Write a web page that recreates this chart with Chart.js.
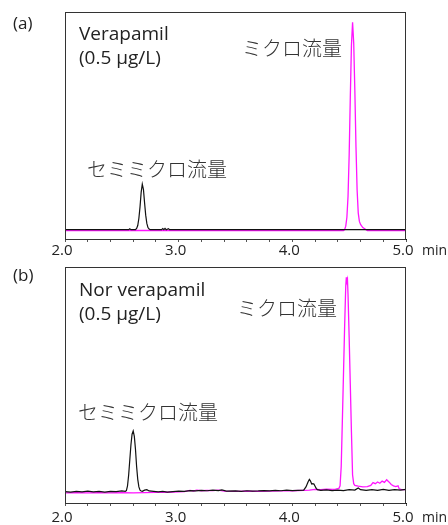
<!DOCTYPE html>
<html>
<head>
<meta charset="utf-8">
<script src="https://cdn.jsdelivr.net/npm/chart.js@4.4.1/dist/chart.umd.min.js"></script>
<style>
  body { margin: 0; background: #fff; }
  #page { position: relative; width: 448px; height: 525px; overflow: hidden; }
  .panel { position: absolute; left: 0; width: 448px; height: 262px; }
  .txt { position: absolute; white-space: nowrap; line-height: 1; color: #222;
         font-family: "Open Sans", "Noto Sans", sans-serif; }
  .jp { font-family: "Noto Sans CJK JP", "Noto Sans", sans-serif; color: #333; font-weight: 300; }
</style>
</head>
<body>
<div id="page">
  <div class="panel" style="top:0"><canvas id="chartA"></canvas></div>
  <div class="panel" style="top:263px"><canvas id="chartB"></canvas></div>

  <div class="txt" style="left:13px;top:14px;font-size:17px">(a)</div>
  <div class="txt" style="left:79px;top:21px;font-size:19px;line-height:24px">Verapamil<br>(0.5 µg/L)</div>
  <div class="txt jp" style="left:242px;top:38px;font-size:20px">ミクロ流量</div>
  <div class="txt jp" style="left:87px;top:159px;font-size:20px">セミミクロ流量</div>
  <div class="txt" style="left:422px;top:243px;font-size:14px">min</div>

  <div class="txt" style="left:13px;top:266px;font-size:17px">(b)</div>
  <div class="txt" style="left:79px;top:277px;font-size:19px;line-height:24px">Nor verapamil<br>(0.5 µg/L)</div>
  <div class="txt jp" style="left:237px;top:298px;font-size:20px">ミクロ流量</div>
  <div class="txt jp" style="left:78px;top:402px;font-size:20px">セミミクロ流量</div>
  <div class="txt" style="left:422px;top:510px;font-size:14px">min</div>
</div>

<script>
// retention time axis (min)
const X_MIN = 2.0;
const X_MAX = 5.0;
const xTickLabels = ["2.0", "3.0", "4.0", "5.0"];

// (a) Verapamil, 0.5 ug/L  -- [time, response], peak of micro flow = 100
const semiMicroA = [
  [2.0, 0], [2.3, 0], [2.56, 0], [2.57, 0.4], [2.58, 0], [2.62, 0], [2.63, 0.6], [2.64, 2],
  [2.65, 5.5], [2.66, 11], [2.67, 18], [2.68, 22], [2.69, 19.5], [2.70, 13], [2.71, 7],
  [2.72, 3], [2.73, 1], [2.74, 0.3], [2.75, 0], [2.85, 0], [2.86, 0.5], [2.87, 0],
  [2.88, 0.6], [2.89, 0], [2.91, 0.5], [2.92, 0], [3.5, 0], [4.0, 0], [4.5, 0], [5.0, 0],
];
const microA = [
  [2.0, -0.4], [3.0, -0.4], [4.0, -0.4], [4.45, -0.4], [4.46, 0], [4.47, 1.7], [4.48, 6],
  [4.49, 16], [4.50, 36], [4.51, 64], [4.52, 89], [4.53, 100], [4.54, 90], [4.55, 67],
  [4.56, 40], [4.57, 19], [4.58, 8], [4.59, 4], [4.60, 2.5], [4.62, 1], [4.64, 0.3],
  [4.66, -0.4], [5.0, -0.4],
];

// (b) Nor verapamil, 0.5 ug/L
const semiMicroB = [
  [2.0, 0.3], [2.05, 0.1], [2.1, 0.4], [2.15, 0.2], [2.2, 0.5], [2.25, 0.2], [2.3, 0.4],
  [2.35, 0.1], [2.4, 0.4], [2.45, 0.3], [2.5, 0.6], [2.53, 0.4], [2.54, 0.8], [2.55, 3],
  [2.56, 8], [2.57, 15], [2.58, 22], [2.59, 27], [2.60, 28.5], [2.61, 26], [2.62, 20],
  [2.63, 12], [2.64, 6], [2.65, 2.5], [2.66, 1], [2.67, 0.6], [2.68, 0.4], [2.70, 1.0],
  [2.72, 1.2], [2.74, 0.6], [2.78, 0.4], [2.82, 0.2], [2.86, 0.4], [2.9, 0.1], [2.95, 0.3],
  [3.0, 0.5], [3.05, 0.4], [3.1, 0.8], [3.15, 0.6], [3.2, 0.9], [3.25, 0.7], [3.3, 1.0],
  [3.35, 0.8], [3.38, 1.1], [3.42, 0.5], [3.5, 0.6], [3.55, 0.4], [3.6, 0.7], [3.65, 0.5],
  [3.7, 0.6], [3.75, 0.8], [3.8, 0.6], [3.85, 0.9], [3.9, 0.7], [3.95, 1.0], [4.0, 0.8],
  [4.05, 0.9], [4.1, 1.0], [4.12, 2.5], [4.14, 5], [4.15, 6], [4.16, 5.2], [4.17, 3.8],
  [4.18, 4.0], [4.19, 3.8], [4.20, 2.8], [4.21, 1.8], [4.22, 1.2], [4.25, 0.9], [4.3, 1.1],
  [4.35, 0.8], [4.4, 1.0], [4.45, 0.8], [4.5, 1.2], [4.55, 1.0], [4.58, 2.0], [4.6, 1.2],
  [4.65, 0.9], [4.7, 1.2], [4.75, 0.9], [4.8, 1.3], [4.85, 0.9], [4.9, 1.2], [4.95, 1.0],
  [5.0, 1.3],
];
const microB = [
  [2.0, -0.3], [2.1, -0.2], [2.2, -0.3], [2.3, -0.2], [2.4, -0.3], [2.5, -0.2], [2.6, -0.3],
  [2.7, -0.2], [2.8, -0.1], [2.9, 0], [3.0, 0.2], [3.05, 0.3], [3.1, 0.9], [3.13, 0.6],
  [3.16, 1.0], [3.2, 0.7], [3.25, 0.9], [3.3, 0.8], [3.35, 1.0], [3.4, 0.5], [3.5, 0.4],
  [3.6, 0.5], [3.7, 0.4], [3.8, 0.5], [3.9, 0.6], [4.0, 0.7], [4.1, 0.9], [4.15, 1.0],
  [4.2, 1.3], [4.25, 1.2], [4.3, 1.4], [4.35, 1.3], [4.38, 1.5], [4.41, 1.8], [4.42, 3],
  [4.43, 12], [4.44, 33], [4.45, 55], [4.46, 77], [4.47, 96], [4.475, 100], [4.48, 98],
  [4.485, 99], [4.49, 92], [4.50, 72], [4.51, 50], [4.52, 28], [4.53, 8], [4.54, 4],
  [4.55, 3.2], [4.58, 2.8], [4.62, 2.5], [4.66, 2.6], [4.69, 3.2], [4.71, 4.5], [4.73, 4.0],
  [4.75, 4.8], [4.77, 4.2], [4.79, 5.2], [4.81, 4.6], [4.83, 5.8], [4.85, 4.8], [4.87, 3.6],
  [4.89, 3.0], [4.91, 2.6], [4.93, 3.0], [4.94, 1.6], [4.96, 1.2], [5.0, 1.2],
];

const BLACK = "#111111";
const MAGENTA = "#ff14ff";

// plot frame (left / top / right sides; bottom is the x axis border)
const framePlugin = {
  id: "frame",
  afterDatasetsDraw(chart) {
    const { ctx, chartArea: a } = chart;
    ctx.save();
    ctx.strokeStyle = "#333";
    ctx.lineWidth = 1;
    ctx.strokeRect(Math.round(a.left) + 0.5, Math.round(a.top) + 0.5,
      Math.round(a.right - a.left) - 1, Math.round(a.bottom - a.top));
    ctx.restore();
  },
};

function toPoints(pairs) {
  return pairs.map(([x, y]) => ({ x, y }));
}

function makeChart(canvasId, black, magenta, { yMin, yMax, top, bottom, labelPad }) {
  const canvas = document.getElementById(canvasId);
  return new Chart(canvas, {
    type: "line",
    data: {
      datasets: [
        { data: toPoints(black), borderColor: BLACK, borderWidth: 1.2 },
        { data: toPoints(magenta), borderColor: MAGENTA, borderWidth: 1.3 },
      ],
    },
    options: {
      responsive: true,
      maintainAspectRatio: false,
      animation: false,
      devicePixelRatio: 1,
      parsing: false,
      elements: { point: { radius: 0 }, line: { tension: 0 } },
      layout: { padding: { left: 65, right: 42, top, bottom } },
      plugins: { legend: { display: false }, tooltip: { enabled: false } },
      scales: {
        x: {
          type: "linear",
          min: X_MIN,
          max: X_MAX,
          afterFit: (s) => { s.height = 22; },
          border: { display: true, color: "#111", width: 1 },
          grid: { drawOnChartArea: false, drawTicks: true, tickLength: 3, color: "#555" },
          ticks: {
            stepSize: 0.2,
            autoSkip: false,
            maxRotation: 0,
            padding: labelPad,
            labelOffset: -3,
            color: "#222",
            font: { family: "'Open Sans', 'Noto Sans', sans-serif", size: 15 },
            callback: (v) => {
              const i = Math.round(v - X_MIN);
              return Math.abs(v - X_MIN - i) < 1e-6 ? xTickLabels[i] : "";
            },
          },
        },
        y: { display: false, min: yMin, max: yMax },
      },
    },
    plugins: [framePlugin],
  });
}

makeChart("chartA", semiMicroA, microA, { yMin: -4.5, yMax: 105, top: 12, bottom: 1, labelPad: 0 });
makeChart("chartB", semiMicroB, microB, { yMin: -5, yMax: 104.8, top: 4, bottom: 0, labelPad: 3 });
</script>
</body>
</html>
